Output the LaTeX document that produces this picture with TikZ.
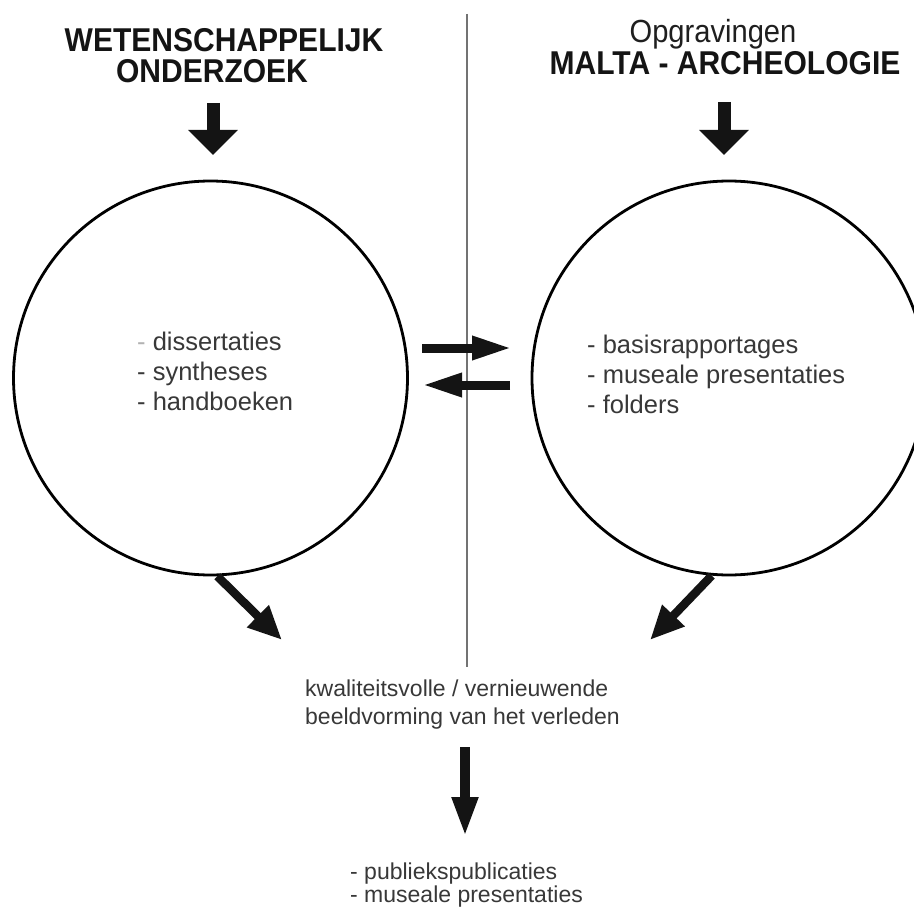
\documentclass[tikz,border=0pt]{standalone}
\usepackage{fontspec}
\setmainfont{Liberation Sans}
\usetikzlibrary{arrows.meta}
\newcommand{\narrowtxt}[1]{\scalebox{0.91}[1]{#1}}
\begin{document}
\begin{tikzpicture}[x=1pt,y=-1pt,
  hdr/.style={font=\fontsize{33}{35}\selectfont\bfseries, inner sep=0pt, anchor=base, text=black!92},
  subhdr/.style={font=\fontsize{32}{34}\selectfont, inner sep=0pt, anchor=base, text=black!88},
  ring/.style={circle, draw=black, line width=2.8pt, minimum size=394pt, inner sep=0pt},
  body/.style={font=\fontsize{25.5}{30}\selectfont, inner sep=0pt, anchor=north west, align=left, text=black!78},
  lower/.style={font=\fontsize{23}{28}\selectfont, inner sep=0pt, anchor=north west, align=left, text=black!78},
  lowlist/.style={font=\fontsize{23}{23}\selectfont, inner sep=0pt, anchor=north west, align=left, text=black!78},
  divider/.style={draw=black!55, line width=1.4pt},
  bigarrow/.style={draw=black!92, line width=13pt, -{Triangle[length=25pt,width=48pt]}},
  swaparrow/.style={draw=black!92, line width=9pt, -{Triangle[length=40pt,width=22pt]}},
  diagarrow/.style={draw=black!92, line width=8.5pt, -{Triangle[length=34pt,width=29pt]}},
  downarrow/.style={draw=black!92, line width=10pt, -{Triangle[length=40pt,width=24pt]}}
]
\useasboundingbox[fill=white] (0,0) rectangle (914,907);

% divider
\coordinate (vtop) at (467,14);
\coordinate (vbot) at (467,667);
\draw[divider] (vtop) -- (vbot);

% headers
\node[hdr] (h1a) at (224,52) {\narrowtxt{WETENSCHAPPELIJK}};
\node[hdr] (h1b) at (212,83) {\narrowtxt{ONDERZOEK}};
\node[subhdr] (h2a) at (713,43) {\narrowtxt{Opgravingen}};
\node[hdr] (h2b) at (725,75) {\narrowtxt{MALTA - ARCHEOLOGIE}};

% circles
\node[ring] (c1) at (210.5,378) {};
\node[ring] (c2) at (729,378) {};

% circle texts
\node[body] (t1) at (137,332) {{\color{black!30}-} dissertaties\\- syntheses\\- handboeken};
\node[body] (t2) at (587,335) {- basisrapportages\\- museale presentaties\\- folders};

% top arrows
\coordinate (a1s) at (213,103);
\coordinate (a1e) at (213,155);
\coordinate (a2s) at (724,102);
\coordinate (a2e) at (724,155);
\draw[bigarrow] (a1s) -- (a1e);
\draw[bigarrow] (a2s) -- (a2e);

% exchange arrows
\coordinate (x1s) at (422,348);
\coordinate (x1e) at (512,348);
\coordinate (x2s) at (510,385);
\coordinate (x2e) at (422,385);
\draw[swaparrow] (x1s) -- (x1e);
\draw[swaparrow] (x2s) -- (x2e);

% bottom texts
\node[lower] (b1) at (305,680) {kwaliteitsvolle / vernieuwende\\beeldvorming van het verleden};
\node[lowlist] (b2) at (350,863) {- publiekspublicaties\\- museale presentaties};

% diagonal arrows
\coordinate (d1e) at (282,640);
\coordinate (d2e) at (650,640);
\draw[diagarrow] (c1.-88) -- (d1e);
\draw[diagarrow] (c2.-95) -- (d2e);

% down arrow
\coordinate (p1s) at (465,747);
\coordinate (p1e) at (465,837);
\draw[downarrow] (p1s) -- (p1e);
\end{tikzpicture}
\end{document}
